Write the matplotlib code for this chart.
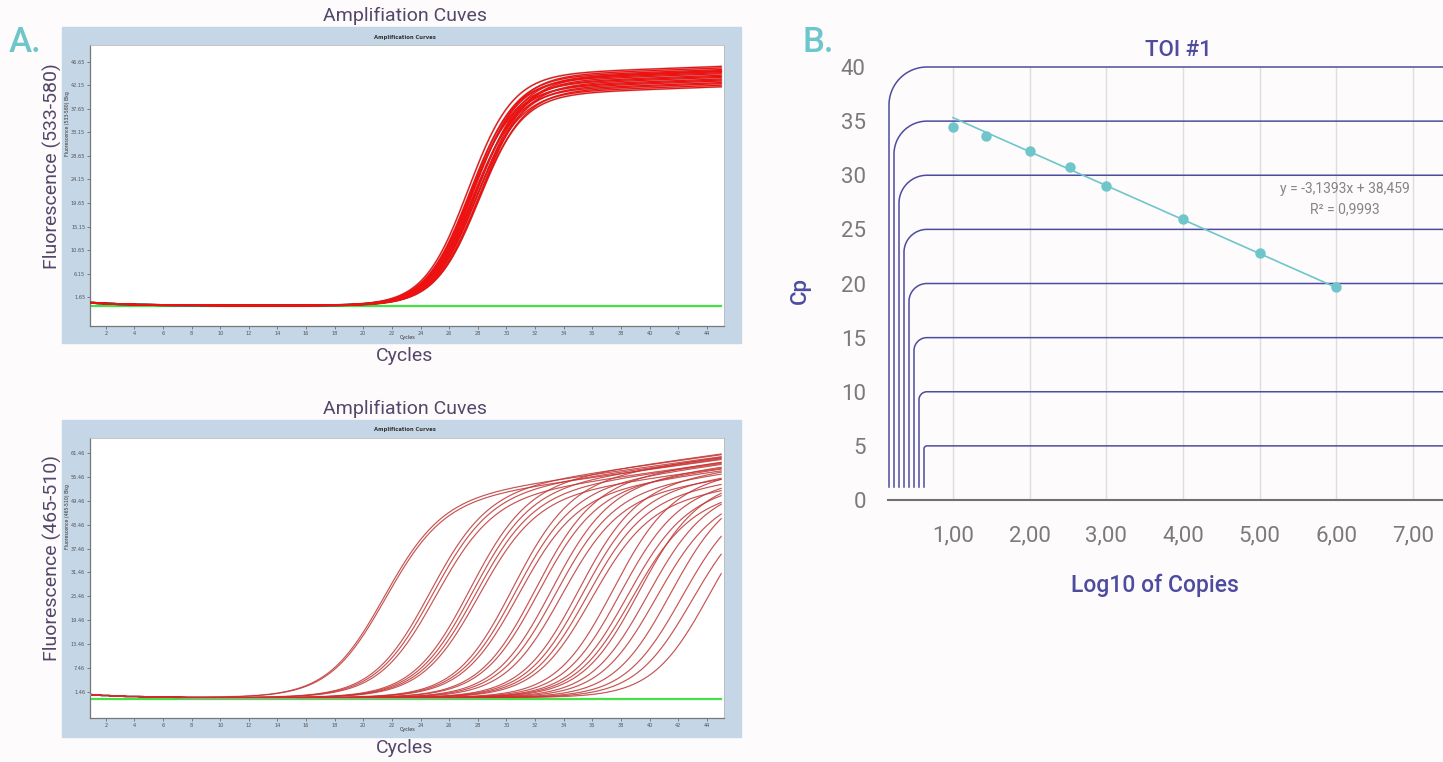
import numpy as np
import matplotlib.pyplot as plt
from matplotlib.patches import Rectangle

W, H = 1443, 762

# ---------------- panel A data ----------------
cycle_first, cycle_last = 1, 45
a_xticks = list(range(2, 46, 2))

# top run (533-580): midpoint cycle and fluorescence reached at cycle 45
top_ct = [27.3, 27.4, 27.4, 27.5, 27.5, 27.6, 27.6, 27.7, 27.7,
          27.8, 27.8, 27.9, 27.9, 28.0, 28.0, 28.1, 28.1, 28.2]
top_end = [45.8, 44.6, 43.2, 45.2, 43.9, 44.8, 42.7, 45.5, 43.4,
           44.1, 42.2, 45.0, 43.0, 44.4, 41.9, 43.7, 42.5, 44.9]
top_slope = 1.55
top_drift = 0.1
top_start = 0.55
top_neg = -0.07
top_yticks = [1.65, 6.15, 10.65, 15.15, 19.65, 24.15, 28.65, 33.15, 37.65, 42.15, 46.65]

# bottom run (465-510): dilution series
bot_ct = [21.3, 21.4, 24.5, 24.7, 24.9, 27.3, 27.5, 27.7, 27.9, 30.3, 30.5, 30.7,
          31.9, 32.1, 33.0, 33.3, 33.7, 34.9, 35.2, 35.5, 35.8, 37.3, 37.8, 38.3,
          38.6, 39.1, 39.7, 40.3, 41.3, 42.1, 42.8, 44.0]
bot_end = [60.5, 59.8, 61.0, 60.2, 59.0, 61.2, 60.0, 58.8, 57.6, 60.4, 58.6, 57.0,
           59.2, 57.5, 58.0, 56.3, 55.0, 57.0, 55.5, 54.0, 52.5, 56.0, 54.0, 52.5,
           51.0, 54.0, 52.0, 50.5, 52.0, 50.0, 48.0, 50.0]
bot_slope = 2.0
bot_drift = 0.5
bot_start = 0.75
bot_neg = -0.3
bot_yticks = [1.456, 7.456, 13.456, 19.456, 25.456, 31.456, 37.456, 43.456, 49.456, 55.456, 61.456]

# ---------------- panel B data ----------------
log_copies = [1.0, 1.43, 2.0, 2.52, 3.0, 4.0, 5.0, 6.0]
cp_values = [34.5, 33.6, 32.2, 30.75, 29.0, 26.0, 22.8, 19.7]
fit_slope, fit_intercept, fit_r2 = -3.1393, 38.459, 0.9993
b_xticks = [1, 2, 3, 4, 5, 6, 7]
b_yticks = [0, 5, 10, 15, 20, 25, 30, 35, 40]

FONT = "Roboto"
label_col = "#54476a"
cyan = "#6fc6ca"
navy = "#4e4c9e"


def px_rect(x0, y0, x1, y1):
    return [x0 / W, 1 - y1 / H, (x1 - x0) / W, (y1 - y0) / H]


def amp_curve(c, ct, end, k, drift, start):
    plateau = end - drift * (cycle_last - c)
    return plateau / (1 + np.exp(-(c - ct) / k)) + start * np.exp(-(c - 1) / 3.0)


fig = plt.figure(figsize=(W / 100, H / 100), dpi=100, facecolor="#fdfbfc")


def amp_panel(frame, inner, ct_list, end_list, k, drift, start, neg, yticks, ylim,
              ylabel, title_y, cycles_y, lw_red, red, shade, shade_alpha):
    fig.add_artist(Rectangle((frame[0], frame[1]), frame[2], frame[3],
                             transform=fig.transFigure, color="#c5d6e6", zorder=0))
    ax = fig.add_axes(inner)
    ax.set_facecolor("white")
    c = np.linspace(cycle_first, cycle_last, 400)
    ax.plot(c, np.full_like(c, neg), color="#44e044", lw=1.6, zorder=2)
    for ct, end in zip(ct_list, end_list):
        f = amp_curve(c, ct, end, k, drift, start)
        ax.plot(c, f, color=shade, lw=lw_red + 0.6, alpha=shade_alpha, zorder=3)
        ax.plot(c, f, color=red, lw=lw_red, zorder=4)
    ax.set_xlim(0.9, 45.2)
    ax.set_ylim(*ylim)
    ax.set_xticks(a_xticks)
    ax.set_yticks(yticks)
    ax.set_yticklabels([f"{v:.2f}" for v in yticks])
    ax.tick_params(labelsize=3.6, colors="#555555", length=2, width=0.5, pad=1.5)
    for s in ["left", "bottom"]:
        ax.spines[s].set_color("#777777")
        ax.spines[s].set_linewidth(0.9)
    for s in ["top", "right"]:
        ax.spines[s].set_color("#bbbbbb")
        ax.spines[s].set_linewidth(0.6)
    # tiny instrument texts
    fig.text(405 / W, 1 - (title_y + 21) / H, "Amplification Curves", fontsize=3.8,
             fontweight="bold", ha="center", va="center", color="#333333")
    fig.text(400 / W, 1 - (cycles_y - 19) / H, "Cycles", fontsize=3.5,
             ha="left", va="center", color="#333333")
    fig.text(67 / W, inner[1] + inner[3] * 0.72, "Fluorescence (" + ylabel + ") Bkg",
             fontsize=3.3, rotation=90, ha="center", va="center", color="#333333")
    # outer labels
    fig.text(405 / W, 1 - title_y / H, "Amplifiation Cuves", fontsize=14,
             family=FONT, fontweight="normal", color=label_col, ha="center", va="center")
    fig.text(405 / W, 1 - cycles_y / H, "Cycles", fontsize=14,
             family=FONT, fontweight="normal", color=label_col, ha="center", va="center")
    fig.text(52 / W, inner[1] + inner[3] * 0.57, "Fluorescence (" + ylabel + ")",
             fontsize=14, family=FONT, fontweight="normal", color=label_col,
             rotation=90, ha="center", va="center")
    return ax


amp_panel(px_rect(62, 27, 741, 343), px_rect(90, 45, 724, 326), top_ct, top_end,
          top_slope, top_drift, top_start, top_neg, top_yticks, (-3.9, 49.9),
          "533-580", 16, 356, 0.9, "#f01010", "#606060", 0.35)
amp_panel(px_rect(62, 420, 741, 737), px_rect(90, 438, 724, 718), bot_ct, bot_end,
          bot_slope, bot_drift, bot_start, bot_neg, bot_yticks, (-5.1, 65.2),
          "465-510", 409, 748, 0.5, "#d42a2a", "#b89a9a", 0.6)

fig.text(25 / W, 1 - 43 / H, "A.", fontsize=25, color=cyan, family=FONT,
         fontweight="medium", ha="center", va="center")

# ---------------- panel B ----------------
ax_l, ax_r, ax_b, ax_t = 888, 1443, 500, 67
axb = fig.add_axes(px_rect(ax_l, ax_t, ax_r, ax_b))
axb.set_facecolor("none")
sx = (1413 - 953) / 6.0
xmin = 1 - (953 - ax_l) / sx
xmax = 1 + (ax_r - 953) / sx
axb.set_xlim(xmin, xmax)
axb.set_ylim(0, 40)
sy = (ax_b - ax_t) / 40.0

axb.vlines(b_xticks, 0, 40, color="#dedede", lw=1.0, zorder=0)

# rounded horizontal guide lines, each stepping in towards the axis
for lev in b_yticks[1:]:
    v_px = 889 + (40 - lev)
    r_px = 927 - v_px
    xv = xmin + (v_px - ax_l) / sx
    rx, ry = r_px / sx, r_px / sy
    t = np.linspace(np.pi, np.pi / 2, 30)
    xs = np.concatenate([[xv], xv + rx + rx * np.cos(t), [xmax]])
    ys = np.concatenate([[13 / sy], lev - ry + ry * np.sin(t), [lev]])
    axb.plot(xs, ys, color=navy, lw=1.1, clip_on=False, zorder=1)

fit_x = np.array([log_copies[0], log_copies[-1]])
axb.plot(fit_x, fit_slope * fit_x + fit_intercept, color=cyan, lw=1.2, zorder=3)
axb.plot(log_copies, cp_values, "o", color=cyan, ms=6.5, zorder=4)

axb.set_xticks(b_xticks)
axb.set_xticklabels([f"{v:.2f}".replace(".", ",") for v in b_xticks])
axb.set_yticks(b_yticks)
axb.tick_params(length=0, labelsize=16, colors="#7a7a7a")
axb.tick_params(axis="y", pad=16)
axb.tick_params(axis="x", pad=18)
for lab in axb.get_xticklabels() + axb.get_yticklabels():
    lab.set_family(FONT)
    lab.set_fontweight("normal")
for s in ["top", "right", "left"]:
    axb.spines[s].set_visible(False)
axb.spines["bottom"].set_color("#707070")
axb.spines["bottom"].set_linewidth(1.5)

fig.text(1178 / W, 1 - 50 / H, "TOI #1", fontsize=16, family=FONT, fontweight="medium",
         color=navy, ha="center", va="center")
fig.text(800 / W, 1 - 290 / H, "Cp", fontsize=16, family=FONT, fontweight="medium",
         color=navy, rotation=90, ha="center", va="center")
fig.text(1155 / W, 1 - 585 / H, "Log10 of Copies", fontsize=16.5, family=FONT,
         fontweight="medium", color=navy, ha="center", va="center")
eq = f"y = {fit_slope}x + {fit_intercept}".replace(".", ",")
fig.text(1345 / W, 1 - 189 / H, eq, fontsize=10, family=FONT, fontweight="normal",
         color="#858585", ha="center", va="center")
fig.text(1345 / W, 1 - 209 / H, f"R² = {fit_r2}".replace(".", ","), fontsize=10,
         family=FONT, fontweight="normal", color="#858585", ha="center", va="center")
fig.text(818 / W, 1 - 43 / H, "B.", fontsize=25, color=cyan, family=FONT,
         fontweight="medium", ha="center", va="center")

fig.savefig("out.png", dpi=100, facecolor=fig.get_facecolor())
